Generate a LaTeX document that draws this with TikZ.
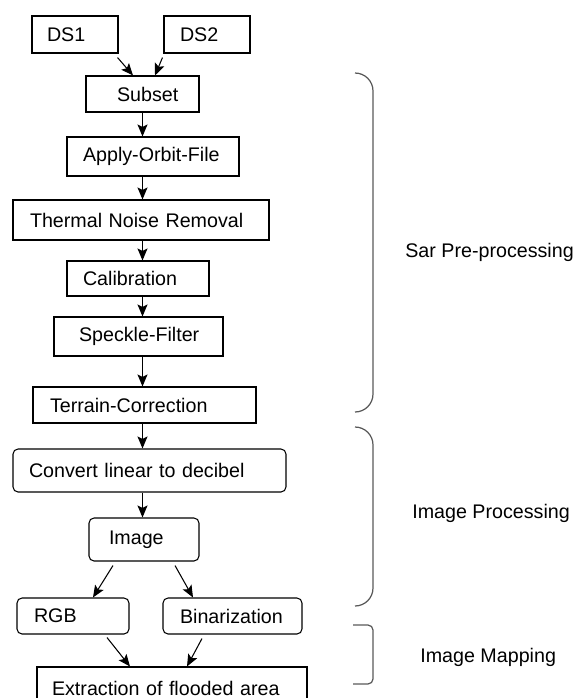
\documentclass[tikz,border=0pt]{standalone}
\usepackage{fontspec}
\setmainfont{Liberation Sans}
\usetikzlibrary{arrows.meta}

\begin{document}
\begin{tikzpicture}[x=0.02cm, y=-0.02cm,
  box/.style 2 args={draw, line width=0.6pt, inner sep=0pt, align=left,
    minimum width=#1, text width=#1, minimum height=#2,
    font=\fontsize{11.2}{13}\selectfont},
  rbox/.style 2 args={box={#1}{#2}, rounded corners=0.1cm},
  arr/.style={-{Stealth[length=2.4mm, width=2mm, inset=0.5mm]}, line width=0.6pt},
  brc/.style={draw=black!65, line width=0.7pt},
  tag/.style={anchor=base west, inner sep=0pt, font=\fontsize{11.2}{13}\selectfont}]
  \clip (0,0) rectangle (576,698);
  \node[box={1.72cm}{0.74cm}] (ds1) at (75,34.5) {\hspace*{0.30cm}DS1};
  \node[box={1.72cm}{0.74cm}] (ds2) at (207,34.5) {\hspace*{0.32cm}DS2};
  \node[box={2.26cm}{0.72cm}] (subset) at (142.5,94) {\hspace*{0.62cm}Subset};
  \node[box={3.44cm}{0.78cm}] (orbit) at (153,156.5) {\hspace*{0.32cm}Apply-Orbit-File};
  \node[box={5.12cm}{0.80cm}] (noise) at (141,220) {\hspace*{0.34cm}Thermal Noise Removal};
  \node[box={2.84cm}{0.70cm}] (calib) at (138,278.5) {\hspace*{0.32cm}Calibration};
  \node[box={3.38cm}{0.78cm}] (speckle) at (138.5,336.5) {\hspace*{0.50cm}Speckle-Filter};
  \node[box={4.46cm}{0.72cm}] (terrain) at (144.5,405) {\hspace*{0.34cm}Terrain-Correction};
  \node[rbox={5.46cm}{0.86cm}] (todb) at (149.5,470.5) {\hspace*{0.32cm}Convert linear to decibel};
  \node[rbox={2.20cm}{0.86cm}] (image) at (144,539.5) {\hspace*{0.40cm}Image};
  \node[rbox={2.24cm}{0.72cm}] (rgb) at (73,616) {\hspace*{0.34cm}RGB};
  \node[rbox={2.78cm}{0.72cm}] (binary) at (232.5,616) {\hspace*{0.34cm}Binarization};
  \node[box={5.40cm}{0.84cm}] (flood) at (172,688) {\hspace*{0.30cm}Extraction of flooded area};
  \draw[arr] ([shift={(-1,4)}]ds1.south east) -- ([shift={(-9.5,0)}]subset.north);
  \draw[arr] ([shift={(-1,4)}]ds2.south west) -- ([shift={(12.5,0)}]subset.north);
  \draw[arr] (subset.south) -- (subset.south |- orbit.north);
  \draw[arr] (orbit.south -| subset) -- (noise.north -| subset);
  \draw[arr] (noise.south -| subset) -- (calib.north -| subset);
  \draw[arr] (calib.south -| subset) -- (speckle.north -| subset);
  \draw[arr] (speckle.south -| subset) -- (terrain.north -| subset);
  \draw[arr] (terrain.south -| subset) -- (todb.north -| subset);
  \draw[arr] (todb.south -| subset) -- (image.north -| subset);
  \draw[arr] ([shift={(-31,4)}]image.south) -- ([shift={(20,0)}]rgb.north);
  \draw[arr] ([shift={(31,4)}]image.south) -- ([shift={(-39.5,0)}]binary.north);
  \draw[arr] ([shift={(34,3)}]rgb.south) -- ([shift={(-42,0)}]flood.north);
  \draw[arr] ([shift={(-30.5,4)}]binary.south) -- ([shift={(15,0)}]flood.north);
  \draw[brc, rounded corners=0.36cm] (355,73) -- (373,73) -- (373,412) -- (355,412);
  \draw[brc, rounded corners=0.36cm] (355,427) -- (373,427) -- (373,606) -- (355,606);
  \draw[brc, rounded corners=0.1cm] (353,625) -- (373,625) -- (373,684) -- (353,684);
  \node[tag] (sar) at (405,257) {Sar Pre-processing};
  \node[tag] (improc) at (412,518) {Image Processing};
  \node[tag] (immap) at (420,662) {Image Mapping};
\end{tikzpicture}
\end{document}
